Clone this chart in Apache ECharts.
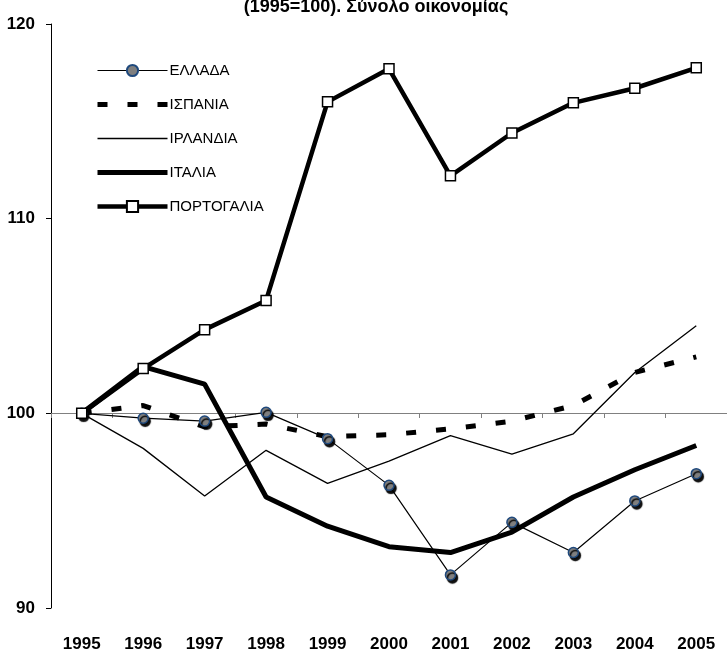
<!DOCTYPE html>
<html>
<head>
<meta charset="utf-8">
<script src="https://cdn.jsdelivr.net/npm/echarts@6/dist/echarts.min.js"></script>
<style>
  html, body { margin: 0; padding: 0; background: #fff; }
  #chart { width: 727px; height: 653px; }
</style>
</head>
<body>
<div id="chart"></div>
<script>
const years = ["1995", "1996", "1997", "1998", "1999", "2000", "2001", "2002", "2003", "2004", "2005"];
const names = ["ΕΛΛΑΔΑ", "ΙΣΠΑΝΙΑ", "ΙΡΛΑΝΔΙΑ", "ΙΤΑΛΙΑ", "ΠΟΡΤΟΓΑΛΙΑ"];

const greece   = [100, 99.75, 99.6, 100.05, 98.7, 96.3, 91.7, 94.4, 92.85, 95.5, 96.9];
const spain    = [100, 100.4, 99.3, 99.45, 98.8, 98.9, 99.2, 99.6, 100.4, 102.1, 102.9];
const ireland  = [100, 98.2, 95.75, 98.1, 96.4, 97.55, 98.85, 97.9, 98.95, 102.1, 104.5];
const italy    = [100, 102.4, 101.5, 95.7, 94.2, 93.15, 92.85, 93.9, 95.7, 97.1, 98.35];
const portugal = [100, 102.3, 104.3, 105.8, 116.0, 117.7, 112.2, 114.4, 115.95, 116.7, 117.75];

const font = "'Liberation Sans', Arial, sans-serif";

const chart = echarts.init(document.getElementById("chart"), null, { renderer: "canvas" });

const hidden = { opacity: 0 };

const option = {
  animation: false,
  backgroundColor: "#fff",
  title: {
    text: "(1995=100). Σύνολο οικονομίας",
    left: 371,
    textAlign: "center",
    top: -7,
    textStyle: { fontFamily: font, fontSize: 18, fontWeight: "bold", color: "#000" }
  },
  legend: {
    orient: "vertical",
    left: 95,
    top: 63,
    padding: 0,
    itemWidth: 70,
    itemHeight: 14,
    itemGap: 19,
    textStyle: { fontFamily: font, fontSize: 15, color: "#000", padding: [0, 0, 0, -3] },
    data: [
      { name: names[0], lineStyle: { width: 1.2 }, itemStyle: { shadowOffsetX: 0, shadowOffsetY: 0, shadowBlur: 0 } },
      { name: names[1], lineStyle: { width: 5, type: [10, 20] }, itemStyle: hidden },
      { name: names[2], lineStyle: { width: 1.3 }, itemStyle: hidden },
      { name: names[3], lineStyle: { width: 5 }, itemStyle: hidden },
      { name: names[4], lineStyle: { width: 4.5 } }
    ]
  },
  grid: { left: 51, right: -5, top: 24, bottom: 44 },
  xAxis: [
    {
      type: "category",
      data: years,
      boundaryGap: true,
      axisLine: { show: false },
      axisTick: { show: false },
      axisLabel: { fontFamily: font, fontSize: 17, fontWeight: "bold", color: "#000", margin: 28 }
    },
    {
      type: "category",
      data: years,
      boundaryGap: true,
      position: "bottom",
      offset: -195,
      axisLine: { show: true, lineStyle: { color: "#808080", width: 1 } },
      axisTick: { show: true, length: 5, lineStyle: { color: "#808080" } },
      axisLabel: { show: false }
    }
  ],
  yAxis: {
    type: "value",
    min: 90,
    max: 120,
    interval: 10,
    splitLine: { show: false },
    axisLine: { show: true, lineStyle: { color: "#000", width: 1 } },
    axisTick: { show: true, length: 5, lineStyle: { color: "#000" } },
    axisLabel: { fontFamily: font, fontSize: 17, fontWeight: "bold", color: "#000", margin: 16 }
  },
  series: [
    {
      name: names[0],
      type: "line",
      data: greece,
      z: 3,
      symbol: "circle",
      symbolSize: 10,
      lineStyle: { color: "#000", width: 1.2 },
      itemStyle: {
        color: "#7f7f7f",
        borderColor: "#1f497d",
        borderWidth: 1.5,
        shadowColor: "rgba(0,0,0,0.95)",
        shadowBlur: 1,
        shadowOffsetX: 2,
        shadowOffsetY: 3
      }
    },
    {
      name: names[1],
      type: "line",
      data: spain,
      z: 2,
      symbol: "none",
      lineStyle: { color: "#000", width: 5, type: [10, 20] },
      itemStyle: { color: "#000" }
    },
    {
      name: names[2],
      type: "line",
      data: ireland,
      z: 2,
      symbol: "none",
      lineStyle: { color: "#000", width: 1.3 },
      itemStyle: { color: "#000" }
    },
    {
      name: names[3],
      type: "line",
      data: italy,
      z: 4,
      symbol: "none",
      lineStyle: { color: "#000", width: 5 },
      itemStyle: { color: "#000" }
    },
    {
      name: names[4],
      type: "line",
      data: portugal,
      z: 5,
      symbol: "rect",
      symbolSize: 10,
      lineStyle: { color: "#000", width: 4.5 },
      itemStyle: { color: "#fff", borderColor: "#000", borderWidth: 1.5 }
    }
  ]
};

chart.setOption(option);
</script>
</body>
</html>
